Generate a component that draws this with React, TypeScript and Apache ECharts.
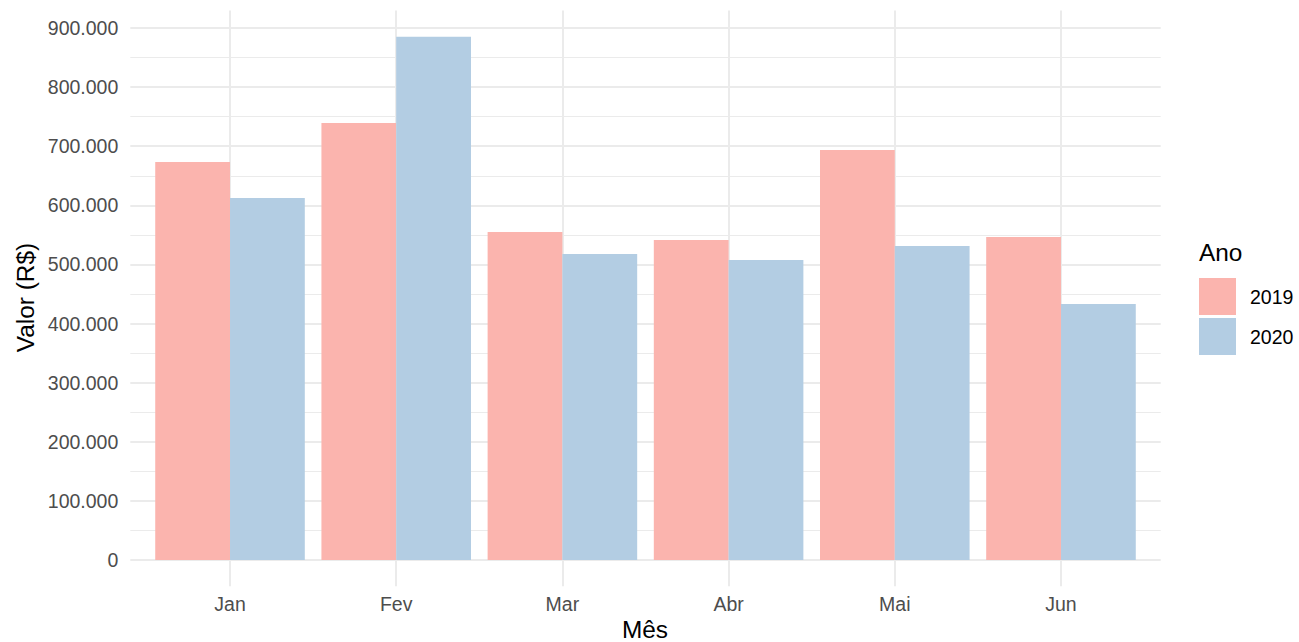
import React, { useEffect, useRef } from "react";
import * as echarts from "echarts";

const months = ["Jan", "Fev", "Mar", "Abr", "Mai", "Jun"];
const years = ["2019", "2020"];
const values2019 = [673300, 739300, 554900, 541400, 693600, 546400];
const values2020 = [612400, 885300, 517700, 507500, 531200, 433100];
const yTicksMax = 900000;
const yTickStep = 100000;
const colors = ["#FBB4AE", "#B3CDE3"];

const FONT = "'Liberation Sans', Arial, Helvetica, sans-serif";
const W = 1299;
const H = 642;

// layout (pixels)
const panelLeft = 130.3;
const panelRight = 1160.7;
const unit = (panelRight - panelLeft) / 6.2;
const barLeft = panelLeft + 0.1 * unit;
const barRight = panelRight - 0.1 * unit;
const zeroY = 560;
const topY = 28;
const panelTop = 10.5;
const panelBottom = 586.2;

function fmt(v: number): string {
  return String(v).replace(/\B(?=(\d{3})+(?!\d))/g, ".");
}

export default function App() {
  const ref = useRef<HTMLDivElement>(null);
  useEffect(() => {
    if (!ref.current) return;
    const chart = echarts.init(ref.current, null, { renderer: "svg" });
    const option: any = {
      animation: false,
      backgroundColor: "#ffffff",
      textStyle: { fontFamily: FONT },
      grid: [
        // background horizontal gridlines across the full panel
        { left: panelLeft, right: W - panelRight, top: topY, bottom: H - zeroY },
        // bars
        { left: barLeft, right: W - barRight, top: topY, bottom: H - zeroY },
        // vertical gridlines + x labels across the full panel height
        { left: barLeft, right: W - barRight, top: panelTop, bottom: H - panelBottom },
      ],
      xAxis: [
        { gridIndex: 0, type: "value", show: false },
        { gridIndex: 1, type: "category", data: months, show: false },
        {
          gridIndex: 2,
          type: "category",
          data: months,
          boundaryGap: true,
          axisLine: { show: false },
          axisTick: {
            show: true,
            inside: true,
            alignWithLabel: true,
            length: panelBottom - panelTop,
            lineStyle: { color: "#EBEBEB", width: 2 },
          },
          axisLabel: {
            color: "#4D4D4D",
            fontSize: 19.5,
            fontFamily: FONT,
            margin: 8,
          },
          splitLine: { show: false },
        },
      ],
      yAxis: [
        {
          gridIndex: 0,
          type: "value",
          min: 0,
          max: yTicksMax,
          interval: yTickStep,
          axisLine: { show: false },
          axisTick: { show: false },
          axisLabel: {
            color: "#4D4D4D",
            fontSize: 19.5,
            fontFamily: FONT,
            margin: 12,
            formatter: (v: number) => fmt(v),
          },
          splitLine: { show: true, lineStyle: { color: "#EBEBEB", width: 2 } },
          minorTick: { show: false, splitNumber: 2 },
          minorSplitLine: { show: true, lineStyle: { color: "#EBEBEB", width: 1 } },
        },
        { gridIndex: 1, type: "value", min: 0, max: yTicksMax, show: false },
        { gridIndex: 2, type: "value", show: false },
      ],
      legend: {
        orient: "vertical",
        left: 1199,
        top: 278,
        padding: 0,
        itemWidth: 37,
        itemHeight: 37,
        itemGap: 3,
        icon: "rect",
        data: years,
        textStyle: {
          color: "#000000",
          fontSize: 19.5,
          fontFamily: FONT,
          padding: [0, 0, 0, 9],
        },
      },
      graphic: [
        {
          type: "text",
          left: 1199,
          top: 240,
          style: { text: "Ano", fontSize: 24.4, fontFamily: FONT, fill: "#000000" },
        },
        {
          type: "text",
          x: 25,
          y: 297.5,
          rotation: Math.PI / 2,
          style: {
            text: "Valor (R$)",
            fontSize: 24.4,
            fontFamily: FONT,
            fill: "#000000",
            align: "center",
            verticalAlign: "middle",
          },
        },
        {
          type: "text",
          x: 645,
          y: 629.5,
          style: {
            text: "Mês",
            fontSize: 24.4,
            fontFamily: FONT,
            fill: "#000000",
            align: "center",
            verticalAlign: "middle",
          },
        },
      ],
      series: [
        {
          name: years[0],
          type: "bar",
          xAxisIndex: 1,
          yAxisIndex: 1,
          data: values2019,
          itemStyle: { color: colors[0] },
          barCategoryGap: "10%",
          barGap: "0%",
        },
        {
          name: years[1],
          type: "bar",
          xAxisIndex: 1,
          yAxisIndex: 1,
          data: values2020,
          itemStyle: { color: colors[1] },
          barCategoryGap: "10%",
          barGap: "0%",
        },
      ],
    };
    chart.setOption(option);
    return () => chart.dispose();
  }, []);
  return (
    <div
      ref={ref}
      style={{ position: "absolute", left: 0, top: 0, width: W, height: H }}
    />
  );
}
